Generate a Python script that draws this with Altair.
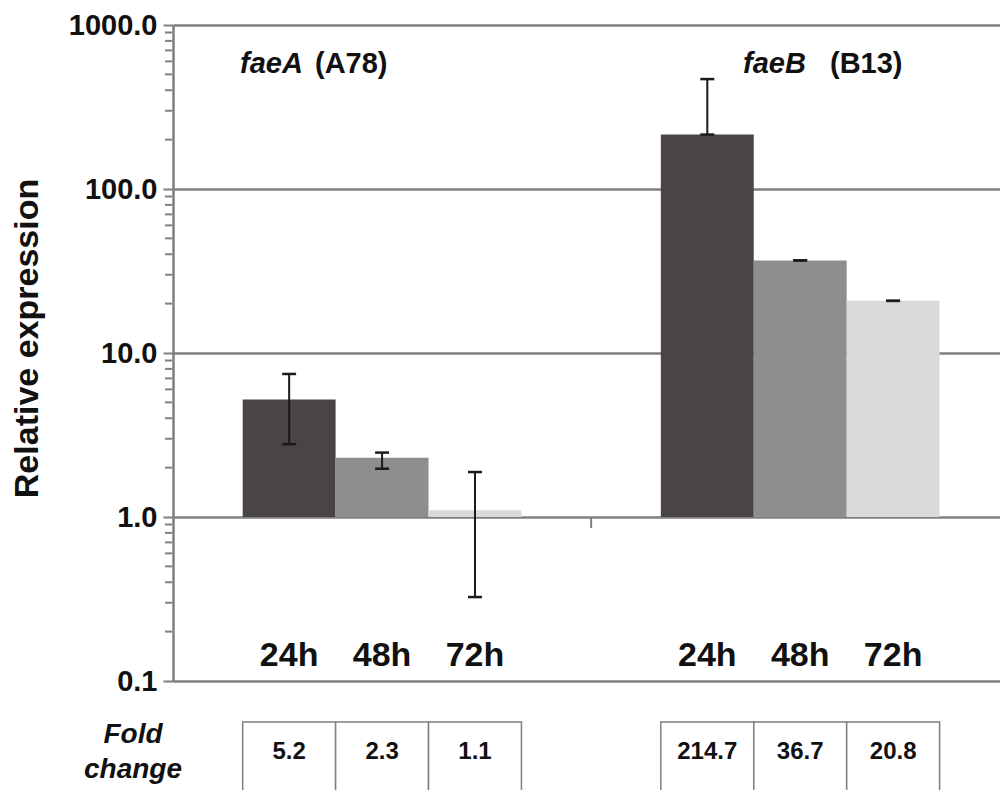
import altair as alt
import pandas as pd

# Relative expression of faeA / faeB at three time points (log scale)
genes = ["faeA", "faeA", "faeA", "faeB", "faeB", "faeB"]
times = ["24h", "48h", "72h", "24h", "48h", "72h"]
fold_change = [5.2, 2.3, 1.1, 214.7, 36.7, 20.8]
err_low = [2.78, 1.97, 0.325, 214.7, 36.7, 20.8]
err_high = [7.45, 2.47, 1.88, 468.0, 36.7, 20.8]

time_order = ["24h", "48h", "72h"]
bar_colors = ["#4a4545", "#8e8e8e", "#dadada"]
y_ticks = [0.1, 1.0, 10.0, 100.0, 1000.0]

FONT = "Liberation Sans"
GRAY = "#7f7f7f"
INK = "#111111"

# bar slots: three adjacent bars per gene, with a gap between the two genes
rows = []
for i, (g, t) in enumerate(zip(genes, times)):
    gi = 0 if g == "faeA" else 1
    ti = time_order.index(t)
    start = 0.75 + 4.5 * gi + ti
    rows.append(dict(gene=g, time=t, fold=fold_change[i], lo=err_low[i], hi=err_high[i],
                     x0=start, x1=start + 1.0, xc=start + 0.5,
                     c0=start + 0.425, c1=start + 0.575, base=1.0,
                     label=f"{fold_change[i]:.1f}"))
df = pd.DataFrame(rows)

# minor log ticks along the value axis (2..9 in every decade)
minor_vals = [k * 10.0 ** d for d in range(-1, 3) for k in range(2, 10)]
minor = pd.DataFrame({"v": minor_vals})

xs = alt.Scale(domain=[0, 8.9], nice=False, zero=False)
ys = alt.Scale(type="log", domain=[0.1, 1000], nice=False)
TITLE = "Relative expression"
y_axis = alt.Axis(values=y_ticks, format=".1f", grid=True, gridColor=GRAY,
                  gridWidth=2.5, domainColor=GRAY, domainWidth=2.5,
                  tickColor=GRAY, tickWidth=2, tickSize=10, labelPadding=6,
                  labelFont=FONT, labelFontSize=29, labelFontWeight="bold",
                  labelColor=INK, labelFlush=False, orient="left",
                  titleFont=FONT, titleFontSize=34, titleFontWeight="bold",
                  titleColor=INK, titleX=-146, titleY=313,
                  titleAngle=270, titleAlign="center", titleBaseline="middle")


def yenc(field):
    return alt.Y(field, scale=ys, axis=y_axis, title=TITLE)


base = alt.Chart(df)

bars = base.mark_bar().encode(
    x=alt.X("x0:Q", scale=xs, axis=None),
    x2="x1:Q",
    y=yenc("fold:Q"),
    y2="base:Q",
    color=alt.Color("time:N", scale=alt.Scale(domain=time_order, range=bar_colors), legend=None),
)

err_rule = base.mark_rule(color="#1a1a1a", strokeWidth=2).encode(
    x=alt.X("xc:Q", scale=xs, axis=None),
    y=yenc("lo:Q"),
    y2="hi:Q",
)
cap_lo = base.mark_rule(color="#1a1a1a", strokeWidth=2.5).encode(
    x=alt.X("c0:Q", scale=xs, axis=None), x2="c1:Q",
    y=yenc("lo:Q"),
)
cap_hi = base.mark_rule(color="#1a1a1a", strokeWidth=2.5).encode(
    x=alt.X("c0:Q", scale=xs, axis=None), x2="c1:Q",
    y=yenc("hi:Q"),
)

# small separator tick between the two genes on the 1.0 line
sep = alt.Chart(pd.DataFrame({"x": [4.5]})).mark_rule(color=GRAY, strokeWidth=2).encode(
    x=alt.X("x:Q", scale=xs, axis=None),
    y=alt.value(493), y2=alt.value(503),
)

time_labels = base.mark_text(font=FONT, fontSize=34, fontWeight="bold",
                             color=INK, baseline="alphabetic").encode(
    x=alt.X("xc:Q", scale=xs, axis=None),
    y=alt.value(641),
    text="time:N",
)


def free_text(txt, px, py, size, italic, align="left", baseline="alphabetic"):
    return alt.Chart(pd.DataFrame({"t": [txt]})).mark_text(
        font=FONT, fontSize=size, fontWeight="bold",
        fontStyle="italic" if italic else "normal",
        color=INK, align=align, baseline=baseline,
    ).encode(x=alt.value(px), y=alt.value(py), text="t:N")


# gene names (italic) with strain ids
heads = [free_text("faeA", 67, 48, 29, True), free_text("(A78)", 142, 48, 29, False),
         free_text("faeB", 570, 48, 29, True), free_text("(B13)", 657, 48, 29, False)]

# fold-change table under the plot
boxes = base.mark_rect(fill="white", stroke=GRAY, strokeWidth=1.5).encode(
    x=alt.X("x0:Q", scale=xs, axis=None), x2="x1:Q",
    y=alt.value(697), y2=alt.value(766),
)
box_text = base.mark_text(font=FONT, fontSize=24, fontWeight="bold",
                          color=INK, baseline="middle").encode(
    x=alt.X("xc:Q", scale=xs, axis=None),
    y=alt.value(727),
    text="label:N",
)
fold_lbl = [free_text("Fold", -40, 710, 28, True, "center", "middle"),
            free_text("change", -40, 745, 28, True, "center", "middle")]

# minor ticks drawn as short horizontal rules just left of the value axis
minor_ticks = alt.Chart(minor).mark_rule(color=GRAY, strokeWidth=2).encode(
    x=alt.value(-8), x2=alt.value(-1),
    y=alt.Y("v:Q", scale=ys, axis=y_axis, title=TITLE),
)

chart = alt.layer(
    bars, err_rule, cap_lo, cap_hi, sep, time_labels, *heads,
    boxes, box_text, *fold_lbl, minor_ticks,
).properties(
    width=827, height=656,
    autosize=alt.AutoSizeParams(type="none"),
    padding={"left": 173, "top": 25, "right": 0, "bottom": 109},
    background="white",
).configure_view(stroke=None)

chart.save("out.html", embed_options={"renderer": "svg", "actions": False})
